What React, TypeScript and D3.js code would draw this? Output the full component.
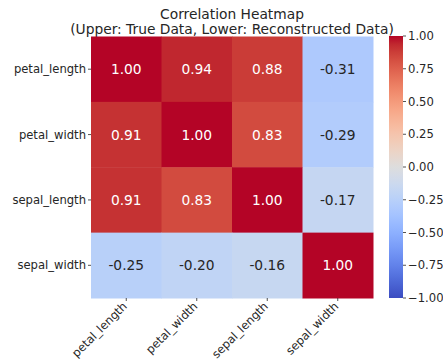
import React, { useRef, useEffect } from 'react';
import * as d3 from 'd3';

const features = ['petal_length', 'petal_width', 'sepal_length', 'sepal_width'];

// rows of the matrix (upper triangle: true data, lower: reconstructed)
const rowPetalLength = [1.0, 0.94, 0.88, -0.31];
const rowPetalWidth = [0.91, 1.0, 0.83, -0.29];
const rowSepalLength = [0.91, 0.83, 1.0, -0.17];
const rowSepalWidth = [-0.25, -0.2, -0.16, 1.0];
const matrix = [rowPetalLength, rowPetalWidth, rowSepalLength, rowSepalWidth];

const colorbarTicks = [1.0, 0.75, 0.5, 0.25, 0.0, -0.25, -0.5, -0.75, -1.0];

// matplotlib coolwarm (Moreland), 33 samples
const coolwarmStops = [
  [59, 76, 192], [68, 90, 204], [77, 104, 215], [87, 117, 225], [98, 130, 234],
  [108, 142, 241], [119, 154, 247], [130, 165, 251], [141, 176, 254], [152, 185, 255],
  [163, 194, 255], [174, 201, 253], [184, 208, 249], [194, 213, 244], [204, 217, 238],
  [213, 219, 230], [221, 221, 221], [229, 216, 209], [236, 211, 197], [241, 204, 184],
  [245, 196, 173], [247, 187, 160], [247, 177, 148], [247, 166, 135], [244, 154, 123],
  [241, 141, 111], [236, 127, 99], [229, 112, 88], [222, 96, 77], [213, 80, 66],
  [203, 62, 56], [192, 40, 47], [180, 4, 38],
];

const FONT = '"DejaVu Sans", sans-serif';
// cell annotations use a plain hyphen, colorbar ticks a real minus sign
const annotFmt = d3.formatLocale({ decimal: '.', thousands: ',', grouping: [3], currency: ['$', ''], minus: '-' }).format('.2f');
const tickFmt = d3.format('.2f');

const Heatmap = () => {
  const ref = useRef<SVGSVGElement>(null);
  useEffect(() => {
    if (!ref.current) return;
    const svg = d3.select(ref.current);
    svg.selectAll('*').remove();

    const left = 91, right = 373, top = 36.5, bottom = 298;

    const color = d3.scaleLinear<string>()
      .domain(coolwarmStops.map((_, i) => -1 + (2 * i) / (coolwarmStops.length - 1)))
      .range(coolwarmStops.map(c => d3.rgb(c[0], c[1], c[2]).toString()))
      .clamp(true);

    const x = d3.scaleBand().domain(features).range([left, right]);
    const y = d3.scaleBand().domain(features).range([top, bottom]);

    // title
    const title = svg.append('g').attr('font-family', FONT).attr('font-size', 13.8)
      .attr('text-anchor', 'middle').attr('fill', '#262626');
    title.append('text').attr('x', (left + right) / 2).attr('y', 18.5).text('Correlation Heatmap');
    title.append('text').attr('x', (left + right) / 2).attr('y', 33.5)
      .text('(Upper: True Data, Lower: Reconstructed Data)');

    // cells
    const cells = matrix.flatMap((row, i) => row.map((v, j) => ({ r: features[i], c: features[j], v })));
    svg.append('g').selectAll('rect').data(cells).join('rect')
      .attr('x', d => x(d.c)!)
      .attr('y', d => y(d.r)!)
      .attr('width', x.bandwidth() + 0.5)
      .attr('height', y.bandwidth() + 0.5)
      .attr('fill', d => color(d.v));

    svg.append('g').attr('font-family', FONT).attr('font-size', 13.8).attr('text-anchor', 'middle')
      .selectAll('text').data(cells).join('text')
      .attr('x', d => x(d.c)! + x.bandwidth() / 2)
      .attr('y', d => y(d.r)! + y.bandwidth() / 2)
      .attr('dy', '0.36em')
      .attr('fill', d => {
        const c = d3.rgb(color(d.v));
        const lum = (ch: number) => { const s = ch / 255; return s <= 0.03928 ? s / 12.92 : Math.pow((s + 0.055) / 1.055, 2.4); };
        const L = 0.2126 * lum(c.r) + 0.7152 * lum(c.g) + 0.0722 * lum(c.b);
        return L > 0.408 ? '#262626' : '#ffffff';
      })
      .text(d => annotFmt(d.v));

    // y axis
    const yAxis = svg.append('g').attr('font-family', FONT).attr('font-size', 11.6);
    features.forEach(f => {
      const cy = y(f)! + y.bandwidth() / 2;
      yAxis.append('line').attr('x1', left - 3).attr('x2', left).attr('y1', cy).attr('y2', cy)
        .attr('stroke', '#262626').attr('stroke-width', 0.8);
      yAxis.append('text').attr('x', left - 5).attr('y', cy).attr('dy', '0.35em')
        .attr('text-anchor', 'end').attr('fill', '#262626').text(f);
    });

    // x axis
    const xAxis = svg.append('g').attr('font-family', FONT).attr('font-size', 11.6);
    features.forEach(f => {
      const cx = x(f)! + x.bandwidth() / 2;
      xAxis.append('line').attr('x1', cx).attr('x2', cx).attr('y1', bottom).attr('y2', bottom + 3)
        .attr('stroke', '#262626').attr('stroke-width', 0.8);
      xAxis.append('text')
        .attr('transform', `translate(${cx + 1.5},${bottom + 9}) rotate(-45)`)
        .attr('text-anchor', 'end').attr('fill', '#262626').text(f);
    });

    // colorbar
    const cbx = 389, cbw = 14;
    const cbScale = d3.scaleLinear().domain([-1, 1]).range([bottom, top - 0.5]);
    const grad = svg.append('defs').append('linearGradient').attr('id', 'cw')
      .attr('x1', 0).attr('y1', 1).attr('x2', 0).attr('y2', 0);
    coolwarmStops.forEach((c, i) => {
      grad.append('stop').attr('offset', i / (coolwarmStops.length - 1))
        .attr('stop-color', d3.rgb(c[0], c[1], c[2]).toString());
    });
    svg.append('rect').attr('x', cbx).attr('y', cbScale(1)).attr('width', cbw)
      .attr('height', cbScale(-1) - cbScale(1)).attr('fill', 'url(#cw)');

    const cbAxis = svg.append('g').attr('font-family', FONT).attr('font-size', 11.6);
    colorbarTicks.forEach(t => {
      const ty = cbScale(t);
      cbAxis.append('line').attr('x1', cbx + cbw).attr('x2', cbx + cbw + 3).attr('y1', ty).attr('y2', ty)
        .attr('stroke', '#262626').attr('stroke-width', 0.8);
      cbAxis.append('text').attr('x', cbx + cbw + 5).attr('y', ty).attr('dy', '0.35em')
        .attr('fill', '#262626').text(tickFmt(t));
    });
  }, []);
  return <svg ref={ref} width={443} height={363} style={{ display: 'block' }} />;
};

export default function App() {
  return (
    <div style={{ position: 'absolute', left: 0, top: 0 }}>
      <Heatmap />
    </div>
  );
}
